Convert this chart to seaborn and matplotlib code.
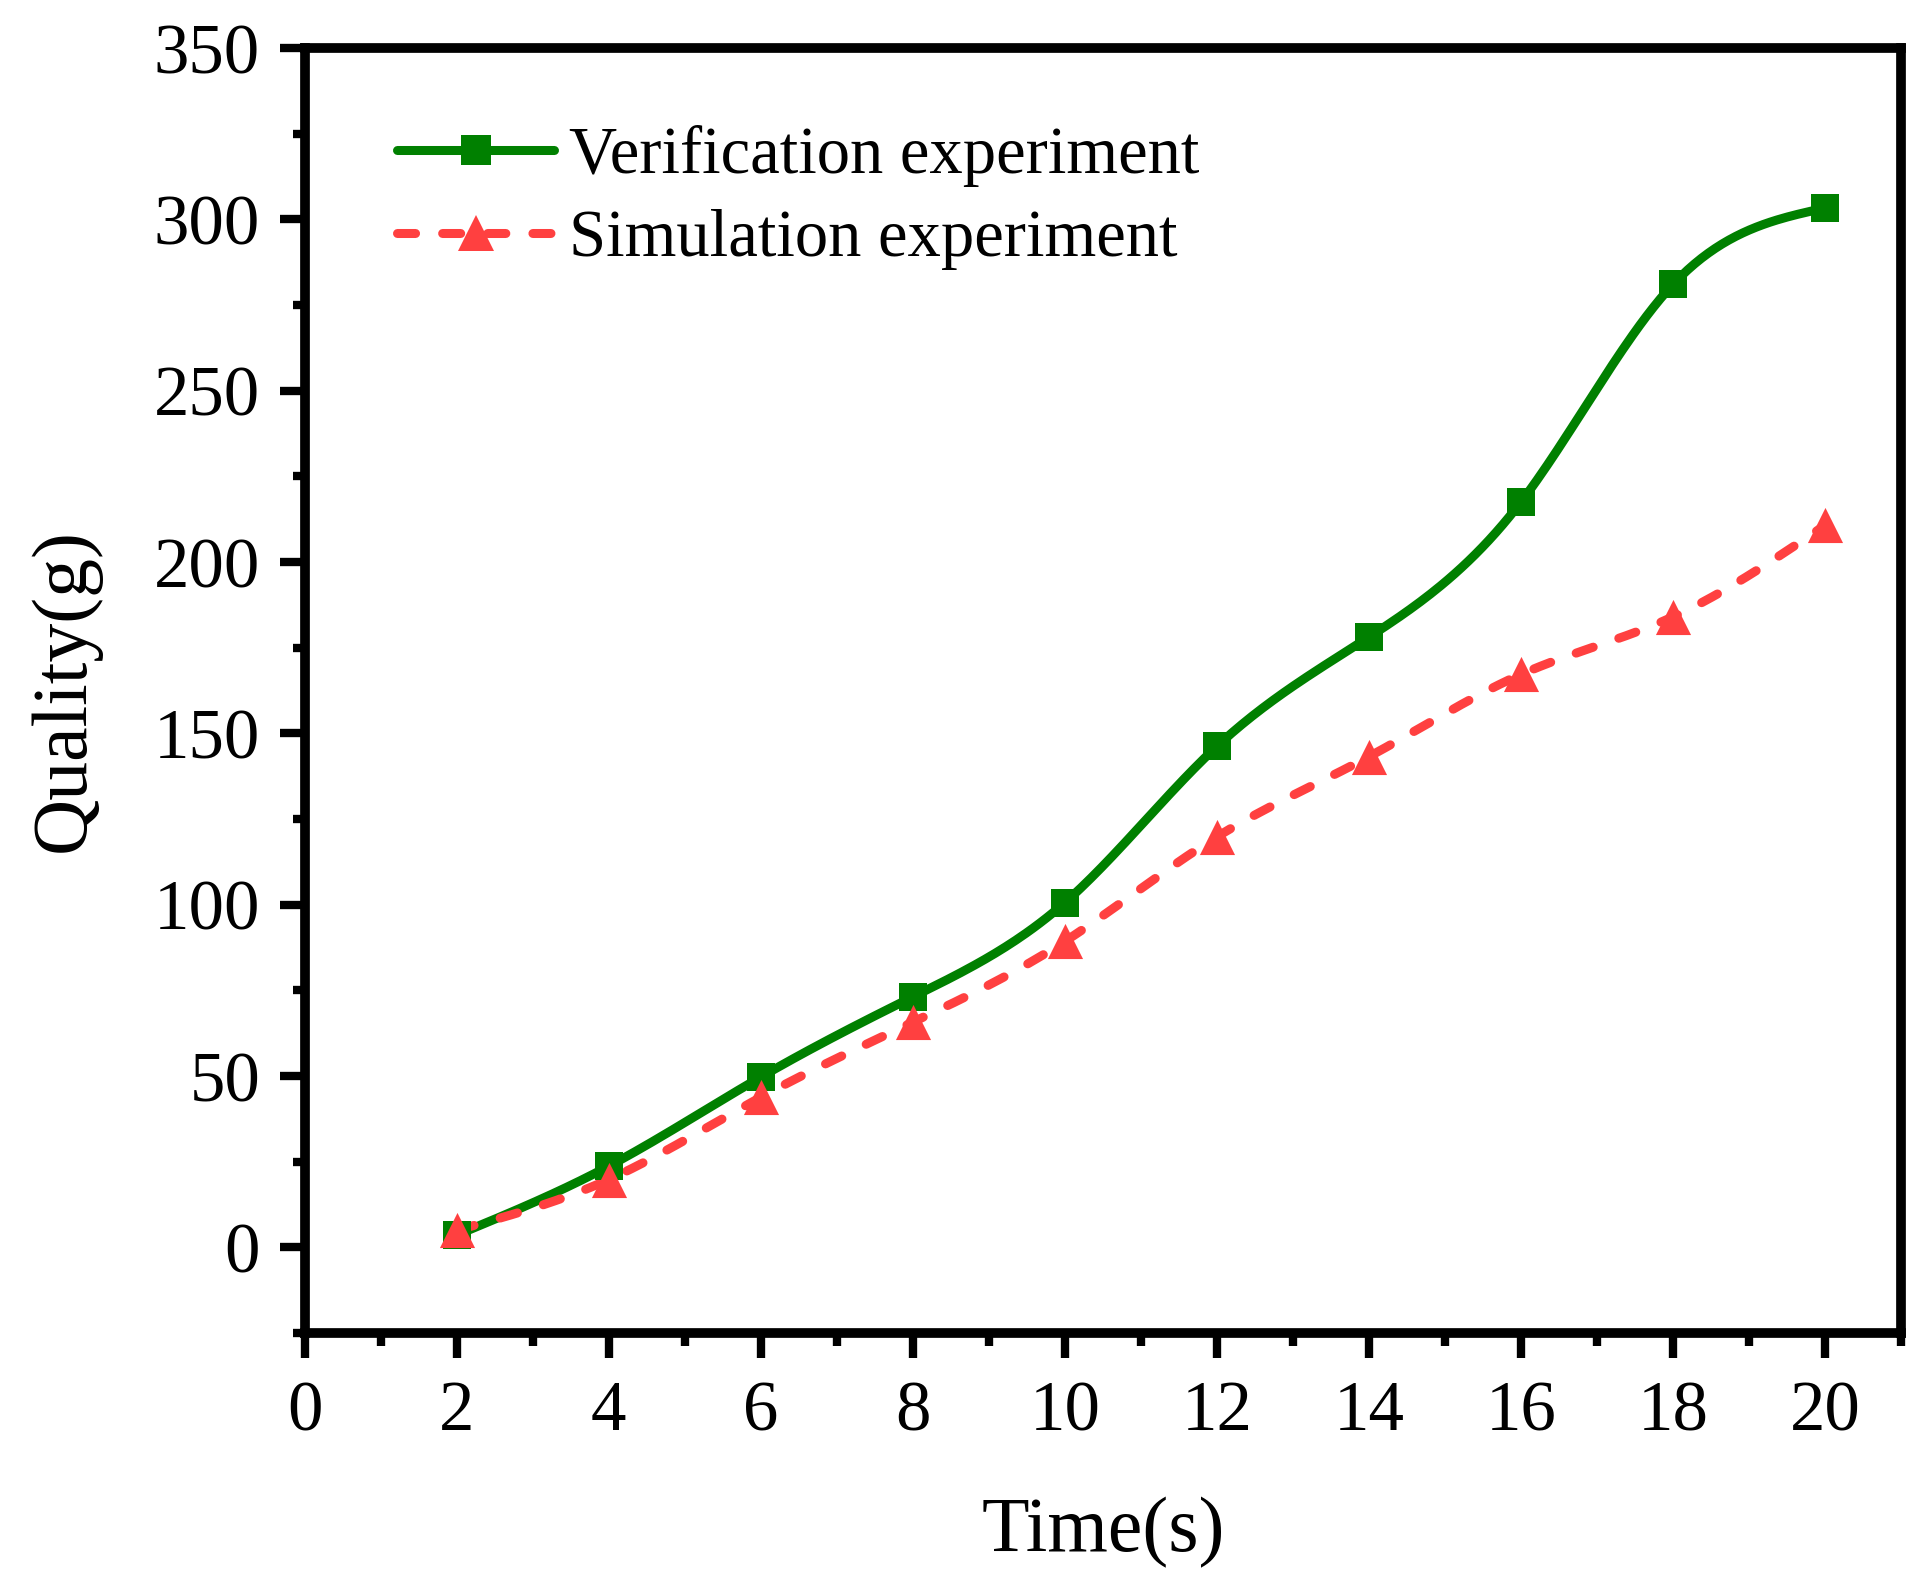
import numpy as np
import matplotlib
matplotlib.use("Agg")
import matplotlib.pyplot as plt
import seaborn as sns
from matplotlib.lines import Line2D
from matplotlib.ticker import MultipleLocator

# data
time_s = [2, 4, 6, 8, 10, 12, 14, 16, 18, 20]
verification = [3.6, 23.7, 49.7, 73.1, 100.6, 146.2, 178.1, 217.5, 281.0, 303.3]
simulation = [5.0, 19.8, 43.8, 65.7, 89.3, 119.8, 143.2, 167.2, 184.0, 210.7]

GREEN = "#008000"
RED = "#FF4040"


def smooth(x, y, n=400):
    # natural cubic spline, only used to draw the curve like the original plot
    x = np.asarray(x, float)
    y = np.asarray(y, float)
    k = len(x)
    h = np.diff(x)
    A = np.zeros((k, k))
    r = np.zeros(k)
    A[0, 0] = A[-1, -1] = 1
    for i in range(1, k - 1):
        A[i, i - 1] = h[i - 1]
        A[i, i] = 2 * (h[i - 1] + h[i])
        A[i, i + 1] = h[i]
        r[i] = 3 * ((y[i + 1] - y[i]) / h[i] - (y[i] - y[i - 1]) / h[i - 1])
    c = np.linalg.solve(A, r)
    b = (y[1:] - y[:-1]) / h - h * (2 * c[:-1] + c[1:]) / 3
    d = (c[1:] - c[:-1]) / (3 * h)
    xs = np.linspace(x[0], x[-1], n)
    i = np.clip(np.searchsorted(x, xs) - 1, 0, k - 2)
    dx = xs - x[i]
    return xs, y[i] + b[i] * dx + c[i] * dx ** 2 + d[i] * dx ** 3


sns.set_style("ticks", {"axes.edgecolor": "black", "text.color": "black",
                        "axes.labelcolor": "black", "xtick.color": "black",
                        "ytick.color": "black"})
plt.rcParams["font.family"] = ["Liberation Serif", "DejaVu Serif"]

fig = plt.figure(figsize=(19.28, 15.9), dpi=100)
ax = fig.add_axes([0.158, 0.1616, 0.828, 0.8082])

gx, gy = smooth(time_s, verification)
rx, ry = smooth(time_s, simulation)

LW = 6.5
sns.lineplot(x=gx, y=gy, ax=ax, color=GREEN, linewidth=LW, sort=False, estimator=None)
sns.lineplot(x=rx, y=ry, ax=ax, color=RED, linewidth=LW, sort=False, estimator=None)
ax.lines[-1].set_dashes((2.0, 3.0))
ax.lines[-1].set_dash_capstyle("round")

sns.scatterplot(x=time_s, y=verification, ax=ax, marker="s", s=400, color=GREEN,
                linewidth=0, zorder=3)
sns.scatterplot(x=time_s, y=simulation, ax=ax, marker="^", s=640, color=RED,
                linewidth=0, zorder=3)

ax.set_xlim(0, 21)
ax.set_ylim(-25, 350)
ax.xaxis.set_major_locator(MultipleLocator(2))
ax.xaxis.set_minor_locator(MultipleLocator(1))
ax.yaxis.set_major_locator(MultipleLocator(50))
ax.yaxis.set_minor_locator(MultipleLocator(25))
ax.tick_params(which="major", direction="out", length=18, width=6, labelsize=51, pad=14,
               top=False, right=False, colors="black")
ax.tick_params(which="minor", direction="out", length=9, width=6, top=False, right=False,
               colors="black")
ax.tick_params(axis="x", which="major", pad=16)
for s in ax.spines.values():
    s.set_linewidth(7)
    s.set_color("black")
    s.set_visible(True)

ax.set_xlabel("Time(s)", fontsize=56, labelpad=37, color="black")
ax.set_ylabel("Quality(g)", fontsize=56, labelpad=38, color="black")

handles = [
    Line2D([], [], color=GREEN, lw=LW, marker="s", ms=21, markeredgewidth=0,
           solid_capstyle="round"),
    Line2D([], [], color=RED, lw=LW, marker="^", ms=26, markeredgewidth=0,
           dashes=(2.0, 3.0), dash_capstyle="round"),
]
leg = ax.legend(handles, ["Verification experiment", "Simulation experiment"],
                loc="upper left", bbox_to_anchor=(0.058, 0.94), frameon=False,
                fontsize=48, handlelength=2.35, handletextpad=0.22, labelspacing=0.33,
                borderpad=0, borderaxespad=0)
for t in leg.get_texts():
    t.set_color("black")

fig.savefig("out.png", dpi=100, facecolor="white")
